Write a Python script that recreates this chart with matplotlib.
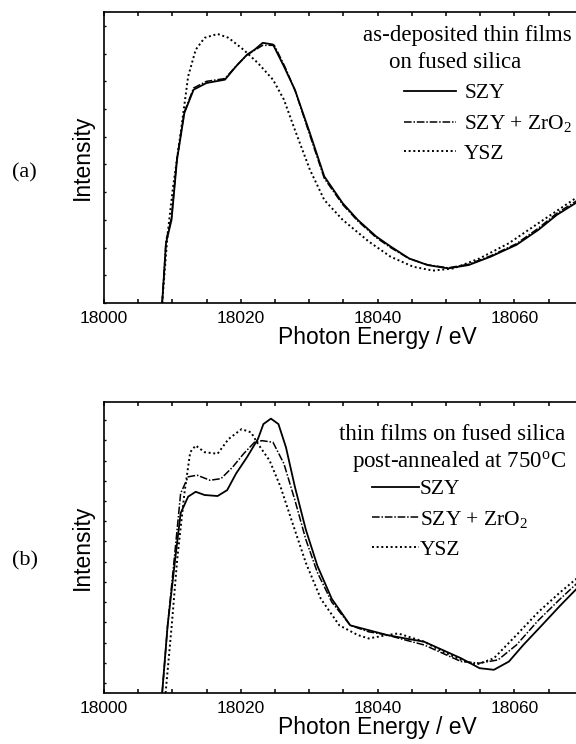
import matplotlib
matplotlib.use("Agg")
import matplotlib.pyplot as plt
from matplotlib.ticker import MultipleLocator

plt.rcParams['font.family'] = 'Liberation Sans'
plt.rcParams['mathtext.fontset'] = 'custom'
plt.rcParams['mathtext.rm'] = 'Liberation Serif'
plt.rcParams['mathtext.it'] = 'Liberation Serif:italic'

# panel (a): as-deposited, energy offset from 18000 eV, intensity in tick units
a_szy_e = [8.5, 9.06, 9.87, 10.67, 11.75, 13.1, 14.99, 17.68, 19.3, 20.9, 22.0, 23.2, 24.7,
           26.3, 27.9, 30.1, 32.2, 34.9, 37.1, 39.8, 41.9, 44.6, 47.3, 50.3, 53.3, 56.5,
           60.3, 63.5, 66.2, 69.3, 72.0]
a_szy_i = [0.0, 2.16, 3.0, 5.17, 6.86, 7.70, 7.94, 8.06, 8.54, 8.96, 9.14, 9.39, 9.33,
           8.54, 7.70, 6.13, 4.57, 3.60, 3.0, 2.40, 2.04, 1.61, 1.37, 1.25, 1.37, 1.67,
           2.10, 2.64, 3.18, 3.66, 4.1]
a_zro_e = [8.5, 9.06, 9.87, 10.67, 11.75, 13.1, 14.99, 17.68, 19.3, 20.9, 22.0, 23.2, 24.9,
           26.5, 28.0, 30.1, 32.2, 34.9, 37.1, 39.8, 41.9, 44.6, 47.3, 50.3, 53.3, 56.5,
           60.3, 63.5, 66.2, 69.3, 72.0]
a_zro_i = [0.0, 2.25, 3.1, 5.25, 6.9, 7.76, 8.0, 8.1, 8.55, 8.95, 9.12, 9.3, 9.3,
           8.5, 7.62, 6.05, 4.5, 3.55, 2.96, 2.36, 2.0, 1.6, 1.38, 1.27, 1.4, 1.7,
           2.14, 2.7, 3.24, 3.72, 4.15]
a_ysz_e = [8.5, 9.3, 10.1, 11.2, 12.3, 13.4, 14.7, 16.6, 18.2, 20.4, 22.5, 24.7, 26.3,
           27.9, 30.1, 32.2, 34.9, 38.7, 41.9, 45.2, 48.1, 51.1, 54.9, 59.2, 63.5, 69.3, 72.0]
a_ysz_i = [0.0, 2.5, 4.2, 6.13, 8.18, 9.14, 9.57, 9.71, 9.57, 9.14, 8.66, 8.06, 7.34,
           6.25, 4.81, 3.72, 3.0, 2.22, 1.67, 1.31, 1.17, 1.25, 1.61, 2.16, 2.88, 3.84, 4.3]

# panel (b): post-annealed at 750 C
b_szy_e = [8.5, 9.3, 10.4, 11.2, 12.3, 13.4, 14.7, 16.6, 18.0, 19.3, 20.9, 22.5, 23.3, 24.4,
           25.5, 26.6, 27.9, 29.5, 31.2, 33.3, 36.0, 38.7, 41.4, 44.1, 46.8, 49.5, 52.2,
           54.9, 57.0, 59.2, 61.3, 64.0, 66.7, 69.3, 72.0]
b_szy_i = [-0.5, 2.85, 6.12, 8.40, 9.22, 9.46, 9.30, 9.25, 9.54, 10.36, 11.17, 12.07, 12.81,
           13.08, 12.81, 11.66, 9.71, 7.59, 5.79, 4.16, 2.85, 2.61, 2.37, 2.20, 2.04, 1.63,
           1.22, 0.73, 0.65, 1.06, 1.88, 2.85, 3.83, 4.73, 5.6]
b_zro_e = [8.5, 9.3, 10.4, 11.2, 12.3, 13.6, 15.5, 17.1, 18.8, 20.4, 22.0, 23.1, 24.7, 26.3,
           27.9, 29.5, 31.2, 33.3, 36.0, 38.7, 41.4, 44.1, 46.8, 49.5, 52.2, 54.9, 57.6,
           60.3, 63.5, 66.7, 69.3, 72.0]
b_zro_i = [-0.5, 2.85, 6.6, 9.38, 10.2, 10.28, 10.03, 10.11, 10.68, 11.34, 11.91, 11.99,
           11.91, 10.85, 9.05, 7.10, 5.46, 4.0, 2.85, 2.53, 2.37, 2.12, 1.88, 1.47, 1.06,
           0.98, 1.14, 1.88, 3.10, 4.16, 4.98, 5.8]
b_ysz_e = [9.0, 9.9, 10.7, 11.75, 12.6, 13.4, 14.7, 16.6, 18.2, 20.1, 21.5, 22.5, 24.2, 25.8,
           27.4, 29.5, 31.7, 34.4, 37.1, 38.7, 41.4, 43.0, 46.8, 49.5, 52.2, 54.4, 57.0,
           60.3, 63.5, 66.7, 69.3, 72.0]
b_ysz_i = [-0.5, 2.85, 6.12, 9.38, 11.42, 11.75, 11.42, 11.34, 12.07, 12.56, 12.40, 11.83,
           11.01, 9.71, 8.07, 5.95, 4.16, 2.85, 2.37, 2.20, 2.37, 2.45, 2.04, 1.55, 1.14,
           0.90, 1.22, 2.37, 3.51, 4.49, 5.22, 5.9]

labels = ['SZY', r'SZY + ZrO$_2$', 'YSZ']
panels = [
    {'pos': [0.1806, 0.5927, 0.95, 0.3911], 'ylim': (0, 10.5), 'yticks': range(0, 11),
     'curves': [(a_szy_e, a_szy_i), (a_zro_e, a_zro_i), (a_ysz_e, a_ysz_i)],
     'title': [('as-deposited thin films', 0.474, 0.921), ('on fused silica', 0.520, 0.828)],
     'leg': (0.548, 0.755), 'hlen': 2.4, 'hpad': 0.4, 'tag': '(a)', 'tag_y': 0.768},
    {'pos': [0.1806, 0.0685, 0.95, 0.3911], 'ylim': (-0.5, 13.9), 'yticks': range(0, 14),
     'curves': [(b_szy_e, b_szy_i), (b_zro_e, b_zro_i), (b_ysz_e, b_ysz_i)],
     'title': [('thin films on fused silica', 0.4286, 0.887),
               (r'post-annealed at 750$^{\rm o}$C', 0.454, 0.794)],
     'leg': (0.489, 0.735), 'hlen': 2.2, 'hpad': 0.05, 'tag': '(b)', 'tag_y': 0.246},
]
styles = [dict(ls='-', lw=1.3), dict(ls=(0, (5, 1.2, 1, 1.2)), lw=1.1), dict(ls=(0, (1, 1.4)), lw=1.4)]

fig = plt.figure(figsize=(5.76, 7.44), dpi=100)
for p in panels:
    ax = fig.add_axes(p['pos'])
    for (e, i), lab, st in zip(p['curves'], labels, styles):
        ax.plot([18000 + v for v in e], i, color='black', label=lab, **st)
    ax.set_xlim(18000, 18080)
    ax.set_ylim(*p['ylim'])
    ax.set_yticks(list(p['yticks']))
    ax.set_yticklabels([])
    ax.xaxis.set_minor_locator(MultipleLocator(5))
    ax.set_xticks([18000, 18020, 18040, 18060])
    ax.tick_params(axis='x', which='both', direction='in', top=True, length=3, width=1.1,
                   labelsize=12.5, pad=6)
    ax.tick_params(axis='y', direction='in', length=1.5, width=1.0, left=True, right=False)
    for s in ax.spines.values():
        s.set_linewidth(1.2)
    ax.set_xlabel('Photon Energy / eV', fontsize=16.5, labelpad=0)
    ax.set_ylabel('Intensity', fontsize=16.5, labelpad=4)
    for txt, x, y in p['title']:
        ax.text(x, y, txt, transform=ax.transAxes, family='Liberation Serif', fontsize=16.5,
                ha='left', va='center')
    ax.legend(loc='upper left', bbox_to_anchor=p['leg'], frameon=False, borderpad=0,
              borderaxespad=0, handlelength=p['hlen'], handletextpad=p['hpad'],
              labelspacing=0.45, prop={'family': 'Liberation Serif', 'size': 15.5})
    fig.text(0.043, p['tag_y'], p['tag'], family='Liberation Serif', fontsize=16,
             ha='center', va='center')

fig.savefig('out.png', dpi=100)
